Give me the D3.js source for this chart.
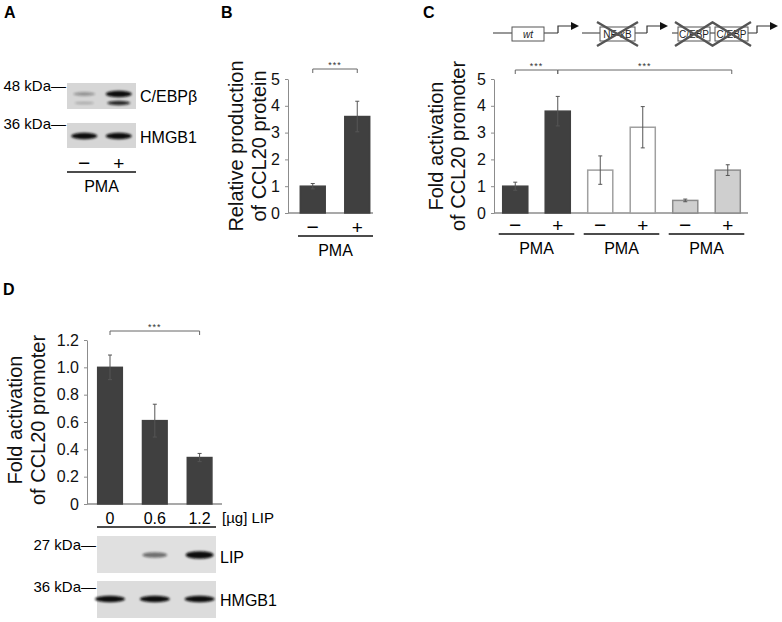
<!DOCTYPE html>
<html>
<head>
<meta charset="utf-8">
<script src="https://cdn.jsdelivr.net/npm/d3@7"></script>
<style>
  body { margin: 0; background: #fff; }
  svg { display: block; font-family: "Liberation Sans", Arial, sans-serif; }
</style>
</head>
<body>
<div id="fig"></div>
<script>
var svgWidth = 782;
var svgHeight = 622;

// panel A blot (band intensities per lane)
var aLanes = ["\u2212", "+"];
var aCebpUpper = [0.2, 1.0];
var aCebpLower = [0.08, 0.85];
var aHmgb1 = [1.0, 1.0];

// panel B
var bLanes = ["\u2212", "+"];
var bValues = [1.0, 3.6];
var bErr = [0.1, 0.57];
var bTicks = [0, 1, 2, 3, 4, 5];

// panel C
var cConstructs = ["wt", "NF-\u03baB", "C/EBP"];
var cLanes = ["\u2212", "+", "\u2212", "+", "\u2212", "+"];
var cValues = [1.0, 3.8, 1.6, 3.2, 0.47, 1.6];
var cErr = [0.15, 0.55, 0.53, 0.77, 0.05, 0.2];
var cTicks = [0, 1, 2, 3, 4, 5];

// panel D
var dDoses = ["0", "0.6", "1.2"];
var dValues = [1.0, 0.61, 0.34];
var dErr = [0.09, 0.12, 0.03];
var dTicks = [0, 0.2, 0.4, 0.6, 0.8, 1.0, 1.2];
var dTickLabels = ["0", "0.2", "0.4", "0.6", "0.8", "1.0", "1.2"];
var dLip = [0, 0.45, 1.0];
var dHmgb1 = [1.0, 1.0, 1.0];

var dark = "#404040";
var axisGrey = "#8c8c8c";
var cFill = { "wt": dark, "NF-\u03baB": "#ffffff", "C/EBP": "#cfcfcf" };
var cStroke = { "wt": dark, "NF-\u03baB": "#a0a0a0", "C/EBP": "#8c8c8c" };

var svg = d3.select("#fig").append("svg")
  .attr("width", svgWidth)
  .attr("height", svgHeight);

var defs = svg.append("defs");
defs.append("filter").attr("id", "blur").attr("x", "-50%").attr("y", "-50%")
  .attr("width", "200%").attr("height", "200%")
  .append("feGaussianBlur").attr("stdDeviation", 1.3);

// panel letters
[["A", 4, 18], ["B", 221, 18], ["C", 423, 18], ["D", 3, 295]].forEach(function (p) {
  svg.append("text").attr("x", p[1]).attr("y", p[2])
    .attr("font-size", 16).attr("font-weight", "bold").text(p[0]);
});

// ---------- helpers ----------
function yAxis(g, y, x0, ticks, labels) {
  var ax = d3.axisLeft(y).tickValues(ticks).tickSize(3).tickSizeOuter(0).tickPadding(5);
  if (labels) ax.tickFormat(function (d, i) { return labels[i]; });
  else ax.tickFormat(d3.format("d"));
  var a = g.append("g").attr("transform", "translate(" + x0 + ",0)").call(ax);
  a.select(".domain").attr("stroke", axisGrey);
  a.selectAll(".tick line").attr("stroke", axisGrey);
  a.selectAll(".tick text").attr("font-size", 16).attr("fill", "#111")
    .attr("font-family", "Liberation Sans, Arial, sans-serif");
}

function bars(g, x, y, values, err, fill, stroke) {
  var bw = x.bandwidth();
  g.selectAll(null).data(values).enter().append("rect")
    .attr("x", function (d, i) { return x(i); })
    .attr("y", function (d) { return y(d); })
    .attr("width", bw)
    .attr("height", function (d) { return y(0) - y(d); })
    .attr("fill", function (d, i) { return fill(i); })
    .attr("stroke", function (d, i) { return stroke(i); })
    .attr("stroke-width", 1.5);
  var e = g.selectAll(null).data(values).enter().append("g")
    .attr("stroke", "#555").attr("stroke-width", 1);
  e.append("line")
    .attr("x1", function (d, i) { return x(i) + bw / 2; })
    .attr("x2", function (d, i) { return x(i) + bw / 2; })
    .attr("y1", function (d, i) { return y(d - err[i]); })
    .attr("y2", function (d, i) { return y(d + err[i]); });
  [1, -1].forEach(function (s) {
    e.append("line")
      .attr("x1", function (d, i) { return x(i) + bw / 2 - 2; })
      .attr("x2", function (d, i) { return x(i) + bw / 2 + 2; })
      .attr("y1", function (d, i) { return y(d + s * err[i]); })
      .attr("y2", function (d, i) { return y(d + s * err[i]); });
  });
}

function laneSigns(g, x, labels, yPos) {
  var bw = x.bandwidth();
  g.selectAll(null).data(labels).enter().append("text")
    .attr("x", function (d, i) { return x(i) + bw / 2; })
    .attr("y", yPos)
    .attr("text-anchor", "middle")
    .attr("font-size", function (d) { return d === "+" ? 19 : 21; })
    .text(function (d) { return d; });
}

function underline(g, x1, x2, yPos, label) {
  g.append("line").attr("x1", x1).attr("x2", x2).attr("y1", yPos).attr("y2", yPos)
    .attr("stroke", "#111").attr("stroke-width", 1.5);
  if (label) {
    g.append("text").attr("x", (x1 + x2) / 2).attr("y", yPos + 20)
      .attr("text-anchor", "middle").attr("font-size", 16).text(label);
  }
}

function bracket(g, x1, x2, yPos) {
  g.append("path")
    .attr("d", "M" + x1 + "," + (yPos + 4) + "V" + yPos + "H" + x2 + "V" + (yPos + 4))
    .attr("fill", "none").attr("stroke", "#666").attr("stroke-width", 1);
  g.append("text").attr("x", (x1 + x2) / 2).attr("y", yPos - 1)
    .attr("text-anchor", "middle").attr("font-size", 9).attr("letter-spacing", 1)
    .attr("fill", "#333").text("***");
}

// two-line rotated title; x1 / x2 are the baselines of the lines
function yTitle(g, x1, x2, cy, lines, size) {
  [x1, x2].forEach(function (bx, i) {
    g.append("text").attr("transform", "translate(" + bx + "," + cy + ") rotate(-90)")
      .attr("text-anchor", "middle").attr("font-size", size).attr("fill", "#111")
      .text(lines[i]);
  });
}

function blot(g, x0, x1, y0, y1, bg, lane, bands) {
  g.append("rect").attr("x", x0).attr("y", y0).attr("width", x1 - x0).attr("height", y1 - y0)
    .attr("fill", bg);
  bands.forEach(function (b) {
    var pts = b.values.map(function (v, i) { return { v: v, i: i }; })
      .filter(function (d) { return d.v > 0; });
    g.selectAll(null).data(pts).enter().append("ellipse")
      .attr("cx", function (d) { return lane(d.i); })
      .attr("cy", b.y)
      .attr("rx", function (d) { return b.rx * (0.8 + 0.2 * d.v); })
      .attr("ry", function (d) { return b.ry * (0.5 + 0.5 * d.v); })
      .attr("fill", "#0d0d0d")
      .attr("opacity", function (d) { return 0.15 + 0.85 * d.v; })
      .attr("filter", "url(#blur)");
  });
}

function marker(g, xRight, yPos, label) {
  g.append("text").attr("x", xRight).attr("y", yPos + 5)
    .attr("text-anchor", "end").attr("font-size", 15).text(label + "\u2014");
}

// ---------- panel A ----------
var gA = svg.append("g");
var aX = d3.scaleBand().domain(d3.range(aLanes.length)).range([67, 136]).paddingInner(0.3).paddingOuter(0.15);
var aLane = function (i) { return aX(i) + aX.bandwidth() / 2; };
blot(gA, 67, 136, 83, 109, "#d6d6d6", aLane, [
  { values: aCebpUpper, y: 94, rx: 13, ry: 3.2 },
  { values: aCebpLower, y: 103, rx: 12, ry: 2.4 }
]);
blot(gA, 67, 136, 123, 148, "#d6d6d6", aLane, [
  { values: aHmgb1, y: 136, rx: 13, ry: 3.2 }
]);
marker(gA, 66, 86, "48 kDa");
marker(gA, 66, 124, "36 kDa");
gA.append("text").attr("x", 140).attr("y", 102).attr("font-size", 16).text("C/EBP\u03b2");
gA.append("text").attr("x", 140).attr("y", 143).attr("font-size", 16).text("HMGB1");
laneSigns(gA, aX, aLanes, 170);
underline(gA, 67, 136, 172, "PMA");

// ---------- panel B ----------
var gB = svg.append("g");
var bY = d3.scaleLinear().domain([0, 5]).range([213, 79]);
var bX = d3.scaleBand().domain(d3.range(bValues.length)).range([290.5, 379.5]).paddingInner(0.44).paddingOuter(0.22);
yAxis(gB, bY, 288, bTicks);
gB.append("line").attr("x1", 288).attr("x2", 373).attr("y1", bY(0)).attr("y2", bY(0))
  .attr("stroke", axisGrey).attr("stroke-width", 1.5);
bars(gB, bX, bY, bValues, bErr, function () { return dark; }, function () { return dark; });
laneSigns(gB, bX, bLanes, 234);
underline(gB, 298, 373, 236, "PMA");
bracket(gB, bX(0) + bX.bandwidth() / 2, bX(1) + bX.bandwidth() / 2, 69);
yTitle(gB, 243, 266, 146, ["Relative production", "of CCL20 protein"], 20);

// ---------- panel C ----------
var gC = svg.append("g");
var cY = d3.scaleLinear().domain([0, 5]).range([213, 79]);
var cX = d3.scaleBand().domain(d3.range(cValues.length)).range([494, 749]).paddingInner(0.41).paddingOuter(0.205);
var cGroup = function (i) { return cConstructs[Math.floor(i / 2)]; };
yAxis(gC, cY, 494, cTicks);
gC.append("line").attr("x1", 494).attr("x2", 748).attr("y1", cY(0)).attr("y2", cY(0))
  .attr("stroke", axisGrey).attr("stroke-width", 1.5);
bars(gC, cX, cY, cValues, cErr,
  function (i) { return cFill[cGroup(i)]; },
  function (i) { return cStroke[cGroup(i)]; });
laneSigns(gC, cX, cLanes, 232);
cConstructs.forEach(function (c, k) {
  var x1 = cX(2 * k) - 4, x2 = cX(2 * k + 1) + cX.bandwidth() + 4;
  underline(gC, x1, x2, 234, "PMA");
});
var cMid = function (i) { return cX(i) + cX.bandwidth() / 2; };
bracket(gC, cMid(0), cMid(1), 70);
bracket(gC, cMid(1), cMid(5) + 4, 70);
yTitle(gC, 443, 465, 146, ["Fold activation", "of CCL20 promoter"], 20);

// promoter constructs
var gS = gC.append("g").attr("stroke", "#333").attr("fill", "none");
function promoterLine(x1, x2) {
  gS.append("line").attr("x1", x1).attr("x2", x2).attr("y1", 33).attr("y2", 33).attr("stroke-width", 1.2);
}
function site(x1, x2, label, crossed, italic) {
  gS.append("rect").attr("x", x1).attr("y", 27).attr("width", x2 - x1).attr("height", 14)
    .attr("fill", "#fff").attr("stroke", "#555");
  gC.append("text").attr("x", (x1 + x2) / 2).attr("y", 38).attr("text-anchor", "middle")
    .attr("font-size", 10).attr("font-style", italic ? "italic" : null).attr("fill", "#222").text(label);
  if (crossed) {
    gC.append("path").attr("d", "M" + (x1 - 3) + ",22L" + (x2 + 3) + ",46M" + (x1 - 3) + ",46L" + (x2 + 3) + ",22")
      .attr("stroke", "#555").attr("stroke-width", 2.4).attr("fill", "none");
  }
}
function tss(x) {
  gS.append("path").attr("d", "M" + x + ",33V26H" + (x + 14)).attr("stroke-width", 1.2);
  gC.append("path").attr("d", "M" + (x + 13) + ",22L" + (x + 21) + ",26L" + (x + 13) + ",30Z").attr("fill", "#111");
}
promoterLine(493, 558); site(512, 544, cConstructs[0], false, true); tss(558);
promoterLine(582, 647); site(600, 635, cConstructs[1], true, false); tss(647);
promoterLine(672, 757); site(678, 710, cConstructs[2], true, false); site(715, 748, cConstructs[2], true, false); tss(757);

// ---------- panel D ----------
var gD = svg.append("g");
var dY = d3.scaleLinear().domain([0, 1.2]).range([504, 340]);
var dX = d3.scaleBand().domain(d3.range(dValues.length)).range([87.6, 222]).paddingInner(0.45).paddingOuter(0.225);
yAxis(gD, dY, 87, dTicks, dTickLabels);
gD.append("line").attr("x1", 87).attr("x2", 222).attr("y1", dY(0)).attr("y2", dY(0))
  .attr("stroke", axisGrey).attr("stroke-width", 1.5);
bars(gD, dX, dY, dValues, dErr, function () { return dark; }, function () { return dark; });
gD.selectAll(null).data(dDoses).enter().append("text")
  .attr("x", function (d, i) { return dX(i) + dX.bandwidth() / 2; })
  .attr("y", 524).attr("text-anchor", "middle").attr("font-size", 16)
  .text(function (d) { return d; });
gD.append("text").attr("x", 222).attr("y", 523).attr("font-size", 15).text("[\u00b5g] LIP");
underline(gD, 97, 216, 527, null);
bracket(gD, dX(0) + dX.bandwidth() / 2, dX(2) + dX.bandwidth() / 2, 331);
yTitle(gD, 22, 45, 420, ["Fold activation", "of CCL20 promoter"], 20);

var dLane = function (i) { return dX(i) + dX.bandwidth() / 2; };
blot(gD, 97, 216, 536, 573, "#e0e0e0", dLane, [
  { values: dLip, y: 555, rx: 14, ry: 3.8 }
]);
blot(gD, 97, 216, 581, 618, "#dcdcdc", dLane, [
  { values: dHmgb1, y: 599, rx: 15, ry: 3.2 }
]);
marker(gD, 96, 545, "27 kDa");
marker(gD, 96, 587, "36 kDa");
gD.append("text").attr("x", 220).attr("y", 563).attr("font-size", 16).text("LIP");
gD.append("text").attr("x", 220).attr("y", 606).attr("font-size", 16).text("HMGB1");
</script>
</body>
</html>
